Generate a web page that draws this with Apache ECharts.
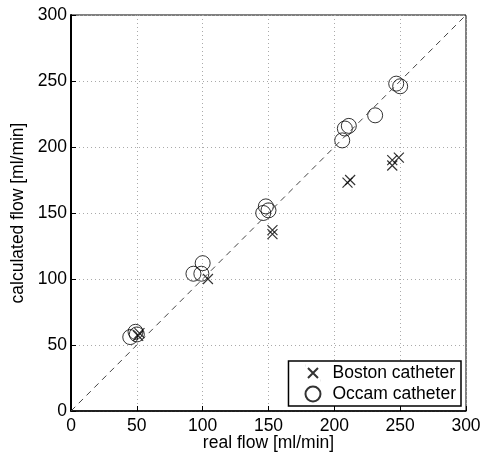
<!DOCTYPE html>
<html><head><meta charset="utf-8">
<script src="https://cdn.jsdelivr.net/npm/echarts@6/dist/echarts.min.js"></script>
<style>html,body{margin:0;padding:0;background:#fff}#c{width:486px;height:454px}</style>
</head><body><div id="c"></div>
<script>
const xTicks = [0, 50, 100, 150, 200, 250, 300];
const yTicks = [0, 50, 100, 150, 200, 250, 300];
const bostonReal = [52, 51, 104, 153, 153, 210, 212, 244, 244, 249];
const bostonCalc = [59, 57, 100, 137, 134, 173, 175, 186, 190, 192];
const occamReal = [45, 49, 50, 93, 99, 100, 146, 148, 150, 206, 208, 211, 231, 247, 250];
const occamCalc = [56, 60, 58, 104, 104, 112, 150, 155, 152, 205, 214, 216, 224, 248, 246];
const identity = [[0, 0], [300, 300]];

const FONT = 'Liberation Sans, Arial, Helvetica, sans-serif';
const FS = 17.5;
const chart = echarts.init(document.getElementById('c'));
const crossPath = 'path://M0,0L10,10M10,0L0,10';
const crossLegend = 'path://M-2.5,-2.5L-2.4,-2.5M0,0L10,10M10,0L0,10M12.5,12.5L12.4,12.5';
chart.setOption({
  animation: false,
  backgroundColor: '#fff',
  grid: { left: 71, right: 20, top: 15, bottom: 43, show: true, borderColor: '#000', borderWidth: 1,
          containLabel: false, outerBoundsMode: 'none' },
  xAxis: {
    type: 'value', min: xTicks[0], max: xTicks[xTicks.length - 1], interval: 50,
    name: 'real flow [ml/min]', nameLocation: 'middle', nameGap: 23, nameMoveOverlap: false,
    nameTextStyle: { fontFamily: FONT, fontSize: FS, color: '#000' },
    axisLine: { lineStyle: { color: '#000', width: 1.5 } },
    axisTick: { inside: true, length: 5, lineStyle: { color: '#000' } },
    axisLabel: { fontFamily: FONT, fontSize: FS, color: '#000', margin: 6 },
    splitLine: { show: true, lineStyle: { color: '#aaa', type: [1, 3], width: 1 } }
  },
  yAxis: {
    type: 'value', min: yTicks[0], max: yTicks[yTicks.length - 1], interval: 50,
    name: 'calculated flow [ml/min]', nameLocation: 'middle', nameGap: 44, nameMoveOverlap: false,
    nameTextStyle: { fontFamily: FONT, fontSize: FS, color: '#000' },
    axisLine: { lineStyle: { color: '#000', width: 2 } },
    axisTick: { inside: true, length: 5, lineStyle: { color: '#000' } },
    axisLabel: { fontFamily: FONT, fontSize: FS, color: '#000', margin: 4 },
    splitLine: { show: true, lineStyle: { color: '#aaa', type: [1, 3], width: 1 } }
  },
  legend: {
    orient: 'vertical', right: 25, bottom: 48,
    backgroundColor: '#fff', borderColor: '#000', borderWidth: 1.5,
    padding: [3, 5, 3, 16], itemGap: 3, itemWidth: 15, itemHeight: 15,
    textStyle: { fontFamily: FONT, fontSize: FS, color: '#000', padding: [0, 0, 0, 7] },
    data: [
      { name: 'Boston catheter', icon: crossLegend },
      { name: 'Occam catheter', icon: 'circle' }
    ]
  },
  series: [
    {
      type: 'line', data: identity, symbol: 'none', silent: true,
      lineStyle: { color: '#444', width: 1, type: [6, 5] }
    },
    {
      name: 'Boston catheter', type: 'scatter', symbol: crossPath, symbolSize: 10,
      data: bostonReal.map((v, i) => [v, bostonCalc[i]]),
      itemStyle: { color: 'rgba(0,0,0,0)', borderColor: '#000', borderWidth: 1.2 }
    },
    {
      name: 'Occam catheter', type: 'scatter', symbol: 'circle', symbolSize: 15,
      data: occamReal.map((v, i) => [v, occamCalc[i]]),
      itemStyle: { color: 'rgba(0,0,0,0)', borderColor: '#000', borderWidth: 1 }
    }
  ]
});
</script></body></html>
